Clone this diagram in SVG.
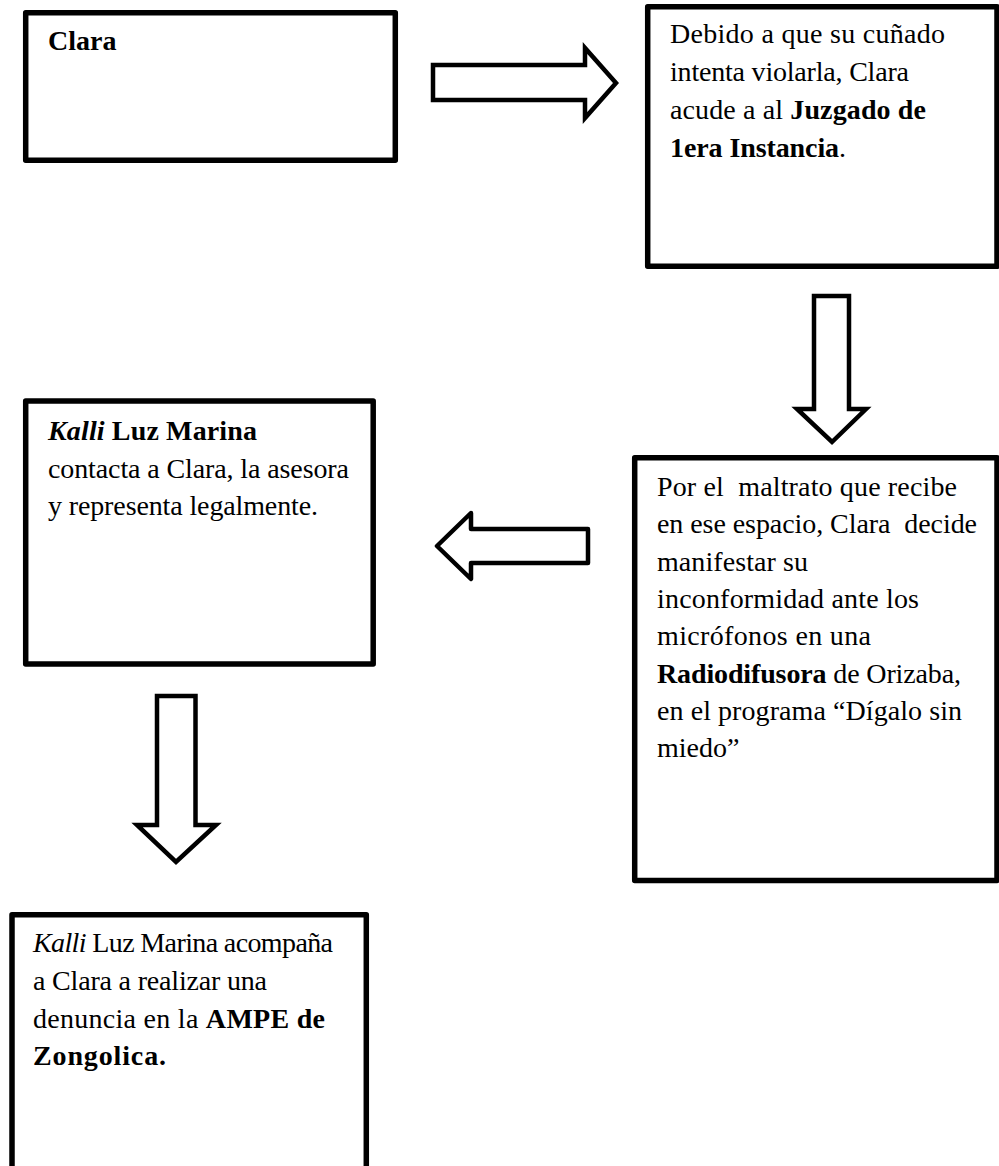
<svg xmlns="http://www.w3.org/2000/svg" width="999" height="1166" viewBox="0 0 999 1166">
  <style>
    .box { fill: #ffffff; stroke: #000000; stroke-width: 5.5; stroke-linejoin: round; }
    .arrow { fill: #ffffff; stroke: #000000; stroke-width: 4.5; stroke-linejoin: miter; }
    .arrow-round { fill: #ffffff; stroke: #000000; stroke-width: 4.5; stroke-linejoin: round; }
    text { font-family: "Liberation Serif", "Times New Roman", serif; font-size: 28px; fill: #000000; }
    .b { font-weight: bold; }
    .i { font-style: italic; }
  </style>
  <rect width="999" height="1166" fill="#ffffff"/>

  <!-- block arrows between the steps -->
  <g id="connectors">
    <polygon class="arrow" points="433,65 585,65 585,48 616,83 585,118 585,100 433,100"/>
    <polygon class="arrow" points="814,296 849,296 849,409 866,409 832,442 797,409 814,409"/>
    <polygon class="arrow-round" points="588,529 471,529 471,513 437,546 471,579 471,563 588,563"/>
    <polygon class="arrow" points="157,696 195.5,696 195.5,825 216,825 176,862 137,825 157,825"/>
  </g>

  <g id="node-clara">
    <rect class="box" x="25.7" y="12.7" width="369.6" height="147.6"/>
    <text x="48" y="50" class="b" font-size="27">Clara</text>
  </g>

  <g id="node-juzgado">
    <rect class="box" x="647.7" y="6.7" width="349.3" height="259.6"/>
    <text x="670" y="43" textLength="275">Debido a que su cuñado</text>
    <text x="670" y="81" textLength="239">intenta violarla, Clara</text>
    <text x="670" y="119" textLength="256">acude a al <tspan class="b">Juzgado de</tspan></text>
    <text x="670" y="157" textLength="176"><tspan class="b">1era Instancia</tspan>.</text>
  </g>

  <g id="node-radiodifusora">
    <rect class="box" x="634.7" y="457.7" width="362.3" height="422.8"/>
    <text x="657" y="496" textLength="300">Por el &#160;maltrato que recibe</text>
    <text x="657" y="533.3" textLength="320">en ese espacio, Clara &#160;decide</text>
    <text x="657" y="570.6" textLength="151">manifestar su</text>
    <text x="657" y="607.9" textLength="262">inconformidad ante los</text>
    <text x="657" y="645.2" textLength="214">micrófonos en una</text>
    <text x="657" y="682.5" textLength="304"><tspan class="b">Radiodifusora</tspan> de Orizaba,</text>
    <text x="657" y="719.8" textLength="305">en el programa “Dígalo sin</text>
    <text x="657" y="757.1">miedo”</text>
  </g>

  <g id="node-luz-marina">
    <rect class="box" x="25.7" y="401" width="347.5" height="263"/>
    <text x="48" y="440" textLength="209"><tspan class="b i">Kalli</tspan> <tspan class="b">Luz Marina</tspan></text>
    <text x="48" y="478" textLength="301">contacta a Clara, la asesora</text>
    <text x="48" y="515" textLength="270">y representa legalmente.</text>
  </g>

  <g id="node-ampe">
    <rect class="box" x="12" y="914.7" width="354.3" height="280"/>
    <text x="33" y="952" textLength="300"><tspan class="i">Kalli</tspan> Luz Marina acompaña</text>
    <text x="33" y="990" textLength="234">a Clara a realizar una</text>
    <text x="33" y="1028" textLength="292">denuncia en la <tspan class="b">AMPE de</tspan></text>
    <text x="33" y="1065" class="b" textLength="133">Zongolica.</text>
  </g>
</svg>
